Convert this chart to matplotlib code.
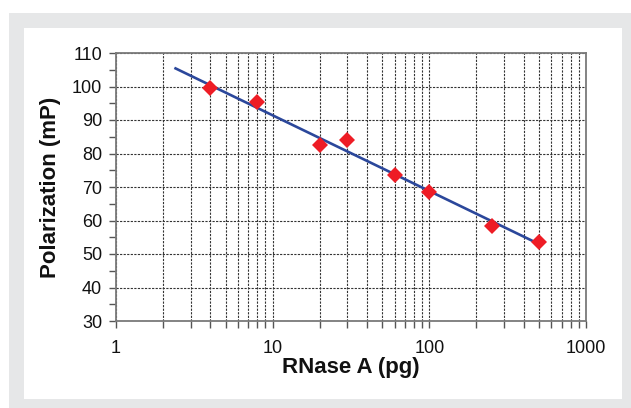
import matplotlib.pyplot as plt
from matplotlib.patches import Rectangle
from matplotlib.ticker import LogLocator, FixedLocator, MultipleLocator

plt.rcParams['font.family'] = ['Liberation Sans', 'DejaVu Sans']

# Measured points (RNase A amount vs polarization)
rnase_pg = [4, 8, 20, 30, 60, 100, 250, 500]
polarization_mp = [99.5, 95.5, 82.5, 84, 73.5, 68.5, 58.5, 53.5]

# Trendline ends
trend_x = [2.4, 500]
trend_y = [105.4, 53.0]

x_ticks = [1, 10, 100, 1000]
x_tick_labels = ['1', '10', '100', '1000']
y_ticks = [30, 40, 50, 60, 70, 80, 90, 100, 110]

W, H = 631, 408
fig = plt.figure(figsize=(W / 100, H / 100), dpi=100)
fig.patch.set_facecolor('white')

# gray frame with white card inside
fig.patches.append(Rectangle((9 / W, 0), 1 - 9 / W, 1 - 13 / H,
                             transform=fig.transFigure, facecolor='#e6e7e8',
                             edgecolor='none', zorder=-2))
fig.patches.append(Rectangle((24 / W, 9 / H), (622 - 24) / W, (399 - 28) / H,
                             transform=fig.transFigure, facecolor='white',
                             edgecolor='none', zorder=-1))

ax = fig.add_axes([116 / W, 1 - 321 / H, (586 - 116) / W, (321 - 53) / H])
ax.set_facecolor('white')

ax.set_xscale('log')
ax.set_xlim(1, 1000)
ax.set_ylim(30, 110)

ax.xaxis.set_major_locator(FixedLocator(x_ticks))
ax.set_xticklabels(x_tick_labels)
ax.xaxis.set_minor_locator(LogLocator(base=10, subs=range(2, 10)))
ax.xaxis.set_minor_formatter(plt.NullFormatter())
ax.yaxis.set_major_locator(FixedLocator(y_ticks))
ax.yaxis.set_minor_locator(MultipleLocator(5))

grid_style = dict(color='#333333', linestyle=(0, (2, 1.2)), linewidth=0.8)
ax.grid(True, which='major', axis='both', **grid_style)
ax.grid(True, which='minor', axis='x', **grid_style)
ax.set_axisbelow(True)

for side in ax.spines.values():
    side.set_color('#7a7a7a')
    side.set_linewidth(1.3)

ax.tick_params(axis='both', which='both', direction='out', color='#555555',
               width=1.0, labelsize=13, labelcolor='#111111')
ax.tick_params(axis='both', which='major', length=5, pad=5)
ax.tick_params(axis='both', which='minor', length=5)
ax.tick_params(axis='x', which='major', pad=9)

ax.plot(trend_x, trend_y, color='#2b479b', linewidth=1.9, zorder=3)
ax.plot(rnase_pg, polarization_mp, linestyle='none', marker='D',
        markersize=8, color='#ee1c25', markeredgewidth=0, zorder=4)

ax.set_xlabel('RNase A (pg)', fontsize=16, fontweight='bold', labelpad=0,
              color='#111111')
ax.set_ylabel('Polarization (mP)', fontsize=16, fontweight='bold', labelpad=8,
              color='#111111')

fig.savefig('out.png', dpi=100)
